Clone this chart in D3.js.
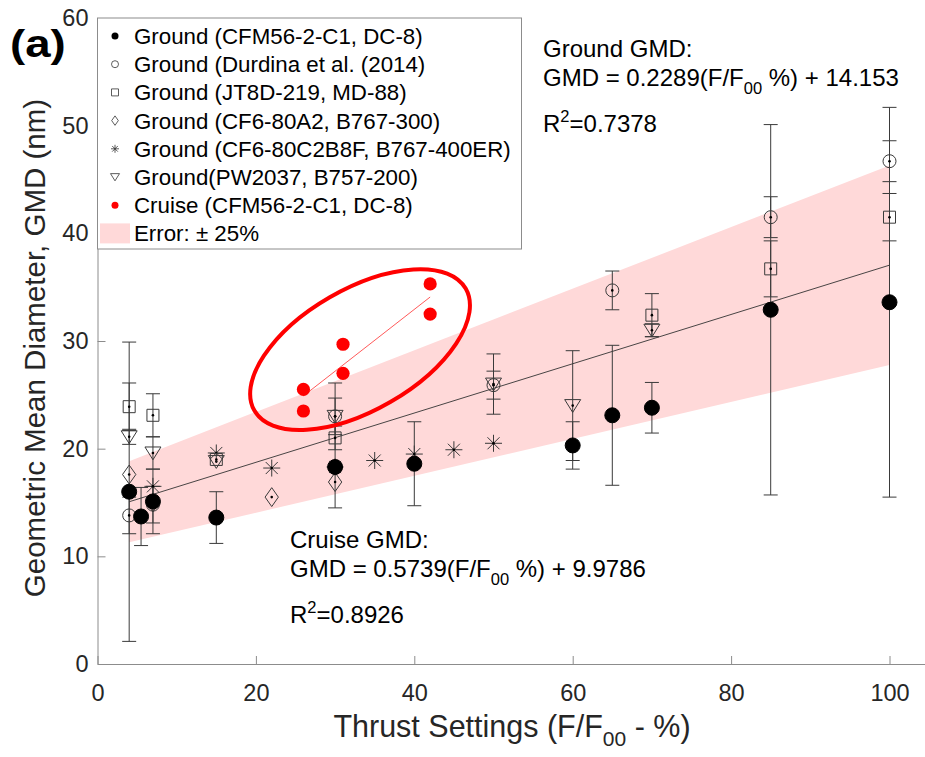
<!DOCTYPE html>
<html>
<head>
<meta charset="utf-8">
<script src="https://cdn.jsdelivr.net/npm/d3@7"></script>
<style>
body { margin: 0; background: #fff; }
svg text { font-family: "Liberation Sans", Arial, sans-serif; }
</style>
</head>
<body>
<div id="chart"></div>
<script>
// ---- data ----
var cfmThrust = [4, 5.5, 7, 15, 30, 40, 60, 65, 70, 85, 100];
var cfmGmd = [16.0, 13.7, 15.1, 13.6, 18.3, 18.6, 20.3, 23.1, 23.8, 32.9, 33.6];
var cfmErr = [13.9, 2.7, 3.0, 2.4, 3.8, 3.9, 2.2, 6.5, 2.35, 17.2, 18.1];

var durdinaThrust = [4, 7, 30, 50, 65, 85, 100];
var durdinaGmd = [13.8, 14.8, 23.0, 25.9, 34.7, 41.5, 46.7];
var durdinaErr = [1.7, 1.7, 1.7, 1.3, 1.8, 1.9, 1.9];

var jt8dThrust = [4, 7, 15, 30, 70, 85, 100];
var jt8dGmd = [23.9, 23.1, 19.0, 21.0, 32.4, 36.7, 41.5];
var jt8dErr = [2.2, 2.0, 0, 0, 2.0, 2.6, 2.2];

var cf6aThrust = [4, 7, 22, 30];
var cf6aGmd = [17.6, 15.0, 15.5, 16.9];

var cf6cThrust = [7, 15, 22, 30, 35, 40, 45, 50];
var cf6cGmd = [16.5, 19.6, 18.2, 18.3, 18.9, 19.5, 19.9, 20.5];

var pwThrust = [4, 7, 15, 30, 50, 60, 70];
var pwGmd = [21.1, 19.6, 18.8, 23.0, 26.0, 24.0, 31.0];
var pwErr = [0.7, 1.5, 0, 3.1, 2.8, 5.1, 0.6];

var cruiseThrust = [26, 26, 31, 31, 42, 42];
var cruiseGmd = [25.5, 23.5, 29.7, 27.0, 35.3, 32.5];

// regression fits quoted in the figure
var groundFit = { slope: 0.2289, intercept: 14.153, from: 4, to: 100 };
var cruiseFit = { slope: 0.5739, intercept: 9.9786, from: 26, to: 42 };
var bandFraction = 0.25;

var xTicks = [0, 20, 40, 60, 80, 100];
var yTicks = [0, 10, 20, 30, 40, 50, 60];

var legendLabels = [
	"Ground (CFM56-2-C1, DC-8)",
	"Ground (Durdina et al. (2014)",
	"Ground (JT8D-219, MD-88)",
	"Ground (CF6-80A2, B767-300)",
	"Ground (CF6-80C2B8F, B767-400ER)",
	"Ground(PW2037, B757-200)",
	"Cruise (CFM56-2-C1, DC-8)",
	"Error: \u00b1 25%"
];

// ---- layout ----
var width = 925;
var height = 757;
var axisColor = "#8c8c8c";
var red = "#ff0000";
var pink = "#ffd9d9";

var svg = d3.select("#chart")
	.append("svg")
	.attr("width", width)
	.attr("height", height);

var x = d3.scaleLinear().domain([0, 105]).range([97.5, 929.1]);
var y = d3.scaleLinear().domain([0, 60]).range([664, 18]);

// marker shapes, centred on 0,0
function markerPath(type, s) {
	var h = s / 2;
	if (type == "square") return "M" + (-h) + "," + (-h) + "h" + s + "v" + s + "h" + (-s) + "Z";
	if (type == "diamond") return "M0," + (-h * 1.35) + "L" + (h * 0.95) + ",0L0," + (h * 1.35) + "L" + (-h * 0.95) + ",0Z";
	if (type == "triangle") return "M" + (-h) + "," + (-h * 0.75) + "L" + h + "," + (-h * 0.75) + "L0," + (h * 0.85) + "Z";
	if (type == "asterisk") {
		var d = h * 0.707;
		return "M0," + (-h) + "V" + h + "M" + (-h) + ",0H" + h +
			"M" + (-d) + "," + (-d) + "L" + d + "," + d + "M" + (-d) + "," + d + "L" + d + "," + (-d);
	}
	// circle
	return "M" + h + ",0A" + h + "," + h + " 0 1,1 " + (-h) + ",0A" + h + "," + h + " 0 1,1 " + h + ",0Z";
}

// ---- error band and ground fit ----
var bandData = [groundFit.from, groundFit.to];
function fitValue(f, t) { return f.slope * t + f.intercept; }

svg.append("path")
	.datum(bandData)
	.attr("fill", pink)
	.attr("d", d3.area()
		.x(function (d) { return x(d); })
		.y0(function (d) { return y(fitValue(groundFit, d) * (1 - bandFraction)); })
		.y1(function (d) { return y(fitValue(groundFit, d) * (1 + bandFraction)); }));

// axes (ticks point inward like the original)
var xAxis = svg.append("g")
	.attr("transform", "translate(0," + y(0) + ")")
	.call(d3.axisBottom(x).tickValues(xTicks).tickSizeInner(-8).tickSizeOuter(0).tickPadding(20));
var yAxis = svg.append("g")
	.attr("transform", "translate(" + x(0) + ",0)")
	.call(d3.axisLeft(y).tickValues(yTicks).tickSizeInner(-8).tickSizeOuter(0).tickPadding(9));
[xAxis, yAxis].forEach(function (g) {
	g.select(".domain").attr("stroke", axisColor);
	g.selectAll(".tick line").attr("stroke", axisColor);
	g.selectAll(".tick text")
		.attr("fill", "#262626")
		.style("font-size", "23.5px");
});

svg.append("path")
	.datum(bandData)
	.attr("fill", "none")
	.attr("stroke", "#333")
	.attr("stroke-width", 0.9)
	.attr("d", d3.line()
		.x(function (d) { return x(d); })
		.y(function (d) { return y(fitValue(groundFit, d)); }));

// ---- ground series ----
function toPoints(xs, ys, es) {
	return xs.map(function (v, i) { return { t: v, g: ys[i], e: es ? es[i] : 0 }; });
}

var series = [
	{ pts: toPoints(pwThrust, pwGmd, pwErr), type: "triangle", size: 16, fill: "none", dot: true },
	{ pts: toPoints(cf6cThrust, cf6cGmd), type: "asterisk", size: 17, fill: "none", dot: true },
	{ pts: toPoints(cf6aThrust, cf6aGmd), type: "diamond", size: 14, fill: "none", dot: true },
	{ pts: toPoints(jt8dThrust, jt8dGmd, jt8dErr), type: "square", size: 12, fill: "none", dot: true },
	{ pts: toPoints(durdinaThrust, durdinaGmd, durdinaErr), type: "circle", size: 13, fill: "none", dot: true },
	{ pts: toPoints(cfmThrust, cfmGmd, cfmErr), type: "circle", size: 15, fill: "#000", dot: false }
];

var cap = 7;
series.forEach(function (s) {
	var withErr = s.pts.filter(function (p) { return p.e > 0; });
	var eb = svg.append("g")
		.attr("stroke", "#3a3a3a")
		.attr("stroke-width", 1)
		.selectAll("g")
		.data(withErr)
		.enter()
		.append("g");
	eb.append("line")
		.attr("x1", function (p) { return x(p.t); })
		.attr("x2", function (p) { return x(p.t); })
		.attr("y1", function (p) { return y(p.g - p.e); })
		.attr("y2", function (p) { return y(p.g + p.e); });
	eb.append("line")
		.attr("x1", function (p) { return x(p.t) - cap; })
		.attr("x2", function (p) { return x(p.t) + cap; })
		.attr("y1", function (p) { return y(p.g - p.e); })
		.attr("y2", function (p) { return y(p.g - p.e); });
	eb.append("line")
		.attr("x1", function (p) { return x(p.t) - cap; })
		.attr("x2", function (p) { return x(p.t) + cap; })
		.attr("y1", function (p) { return y(p.g + p.e); })
		.attr("y2", function (p) { return y(p.g + p.e); });
});

series.forEach(function (s) {
	var m = svg.append("g")
		.selectAll("g")
		.data(s.pts)
		.enter()
		.append("g")
		.attr("transform", function (p) { return "translate(" + x(p.t) + "," + y(p.g) + ")"; });
	m.append("path")
		.attr("d", markerPath(s.type, s.size))
		.attr("fill", s.fill)
		.attr("stroke", s.fill == "none" ? "#3a3a3a" : "#000")
		.attr("stroke-width", 1);
	if (s.dot) {
		m.append("circle").attr("r", 1.3).attr("fill", "#000");
	}
});

// ---- cruise ----
svg.append("path")
	.datum([cruiseFit.from, cruiseFit.to])
	.attr("fill", "none")
	.attr("stroke", "#ff5a5a")
	.attr("stroke-width", 1)
	.attr("d", d3.line()
		.x(function (d) { return x(d); })
		.y(function (d) { return y(fitValue(cruiseFit, d)); }));

svg.append("g")
	.selectAll("circle")
	.data(toPoints(cruiseThrust, cruiseGmd))
	.enter()
	.append("circle")
	.attr("cx", function (p) { return x(p.t); })
	.attr("cy", function (p) { return y(p.g); })
	.attr("r", 6.6)
	.attr("fill", red);

// highlight ellipse around cruise points
svg.append("ellipse")
	.attr("transform", "translate(" + x(33.15) + "," + y(29.2) + ") rotate(-30)")
	.attr("rx", 122)
	.attr("ry", 60.5)
	.attr("fill", "none")
	.attr("stroke", red)
	.attr("stroke-width", 4);

// ---- legend ----
var legend = svg.append("g");
legend.append("rect")
	.attr("x", x(0))
	.attr("y", y(60))
	.attr("width", 424)
	.attr("height", 231)
	.attr("fill", "#fff")
	.attr("stroke", axisColor);

var legendTypes = [
	{ type: "circle", size: 7, fill: "#000" },
	{ type: "circle", size: 7, fill: "none" },
	{ type: "square", size: 7, fill: "none" },
	{ type: "diamond", size: 7, fill: "none" },
	{ type: "asterisk", size: 8, fill: "none" },
	{ type: "triangle", size: 9, fill: "none" },
	{ type: "circle", size: 7, fill: red },
	{ type: "patch" }
];

var rows = legend.selectAll("g.row")
	.data(legendLabels)
	.enter()
	.append("g")
	.attr("class", "row")
	.attr("transform", function (d, i) { return "translate(0," + (36 + i * 28.2) + ")"; });

rows.each(function (d, i) {
	var g = d3.select(this);
	var t = legendTypes[i];
	if (t.type == "patch") {
		g.append("rect").attr("x", 100).attr("y", -10).attr("width", 30).attr("height", 20).attr("fill", pink);
	} else {
		g.append("path")
			.attr("transform", "translate(115,0)")
			.attr("d", markerPath(t.type, t.size))
			.attr("fill", t.fill)
			.attr("stroke", t.fill == "none" ? "#333" : "none")
			.attr("stroke-width", 0.8);
	}
	g.append("text")
		.attr("x", 134)
		.attr("y", 8)
		.style("font-size", "22.3px")
		.attr("fill", "#000")
		.text(d);
});

// ---- annotations ----
function fitText(x0, y0, title, slope, intercept, r2) {
	var g = svg.append("g").style("font-size", "24px").attr("fill", "#000");
	g.append("text").attr("x", x0).attr("y", y0).text(title);
	var t = g.append("text").attr("x", x0).attr("y", y0 + 28.5);
	t.append("tspan").text("GMD = " + slope + "(F/F");
	t.append("tspan").attr("dy", 8).style("font-size", "16.5px").text("00");
	t.append("tspan").attr("dy", -8).text(" %) + " + intercept);
	var r = g.append("text").attr("x", x0).attr("y", y0 + 75);
	r.append("tspan").text("R");
	r.append("tspan").attr("dy", -10).style("font-size", "16.5px").text("2");
	r.append("tspan").attr("dy", 10).text("=" + r2);
}
fitText(543, 57, "Ground GMD:", "0.2289", "14.153", "0.7378");
fitText(290, 548, "Cruise GMD:", "0.5739", "9.9786", "0.8926");

// ---- labels ----
svg.append("text")
	.attr("transform", "translate(10,57) scale(1.2,1)")
	.style("font-size", "38px")
	.style("font-weight", "bold")
	.text("(a)");

svg.append("text")
	.attr("transform", "translate(45," + ((y(0) + y(60)) / 2 + 7) + ") rotate(-90)")
	.attr("text-anchor", "middle")
	.attr("fill", "#262626")
	.style("font-size", "29.5px")
	.text("Geometric Mean Diameter, GMD (nm)");

var xl = svg.append("text")
	.attr("x", 512)
	.attr("y", 737)
	.attr("text-anchor", "middle")
	.attr("fill", "#262626")
	.style("font-size", "30.5px");
xl.append("tspan").text("Thrust Settings (F/F");
xl.append("tspan").attr("dy", 9).style("font-size", "21px").text("00");
xl.append("tspan").attr("dy", -9).text(" - %)");
</script>
</body>
</html>
